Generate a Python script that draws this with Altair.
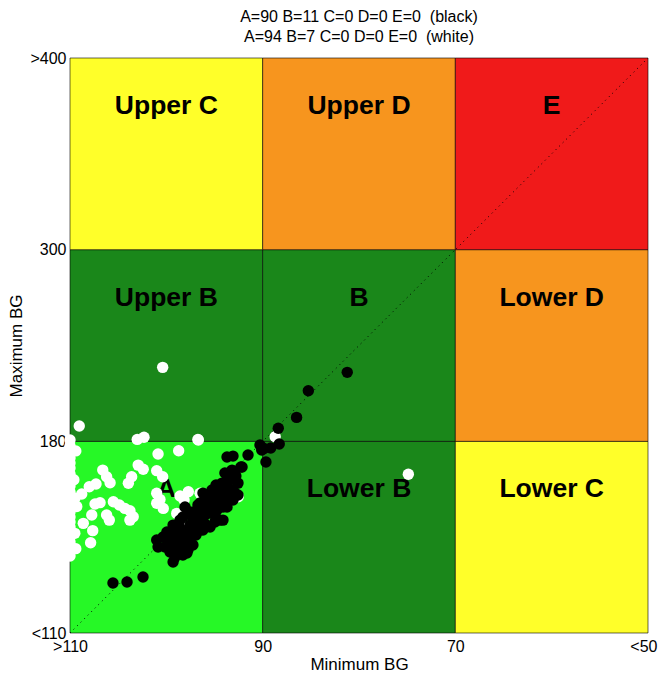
import altair as alt
import pandas as pd

# Control Variability Grid: coordinates in grid units (0..3 on each axis)
x_ticks = [0, 1, 2, 3]
x_tick_labels = [">110", "90", "70", "<50"]
y_ticks = [0, 1, 2, 3]
y_tick_labels = ["<110", "180", "300", ">400"]

# zones, rows from bottom to top, columns left to right
zone_labels = [
    ["A", "Lower B", "Lower C"],
    ["Upper B", "B", "Lower D"],
    ["Upper C", "Upper D", "E"],
]
zone_colors = [
    ["#26F826", "#1A871A", "#FFFF29"],
    ["#1A871A", "#1A871A", "#F7951E"],
    ["#FFFF29", "#F7951E", "#F01A1A"],
]

# white series (min-BG grid position, max-BG grid position)
white_x = [0.481, 0.048, 0.349, 0.384, 0.664, 0.564, 0.457, 0.354, 0.380, 0.170,
           0.190, 0.208, 0.320, 0.303, 0.450, 0.481, 0.135, 0.100, 0.061, 0.026,
           0.156, 0.130, 0.225, 0.256, 0.285, 0.311, 0.328, 0.311, 0.450, 0.467,
           0.450, 0.484, 0.571, 0.592, 0.614, 0.554, 0.190, 0.204, 0.113, 0.069,
           0.118, 0.107, 0.813, 0.873, 0.675, 0.580, 1.065, 0.666, 1.756,
           0.0, 0.0, 0.0, 0.0, 0.0, 0.0, 0.0, 0.0, 0.0, 0.0, 0.0, 0.0, 0.0,
           0.0, 0.0, 0.0, 0.0, 0.0, 0.0, 0.0, 0.0, 0.0, 0.0,
           0.03, 0.02, 0.035, 0.025, 0.03]
white_y = [1.386, 1.080, 1.010, 1.021, 1.010, 0.951, 0.934, 0.876, 0.854, 0.850,
           0.815, 0.784, 0.815, 0.781, 0.847, 0.815, 0.777, 0.763, 0.725, 0.703,
           0.680, 0.673, 0.685, 0.668, 0.650, 0.638, 0.607, 0.589, 0.729, 0.697,
           0.677, 0.650, 0.715, 0.694, 0.737, 0.624, 0.616, 0.589, 0.616, 0.572,
           0.534, 0.471, 0.746, 0.711, 0.729, 0.555, 1.024, 1.007, 0.828,
           1.007, 0.975, 0.944, 0.913, 0.887, 0.861, 0.829, 0.798, 0.767, 0.736,
           0.709, 0.683, 0.657, 0.631, 0.605, 0.579, 0.553, 0.527, 0.501, 0.475,
           0.449, 0.423, 0.402,
           0.95, 0.80, 0.66, 0.52, 0.44]

# black series
black_x = [1.439, 1.237, 1.176, 1.081, 1.086, 1.042, 1.007, 1.017, 0.995, 0.986,
           0.223, 0.296, 0.379, 0.535, 0.457, 0.450, 0.483, 0.519, 0.493, 0.519,
           0.545, 0.586, 0.612, 0.638, 0.607, 0.571, 0.503, 0.535, 0.571, 0.602,
           0.550, 0.586, 0.623, 0.654, 0.675, 0.690, 0.659, 0.701, 0.727, 0.752,
           0.778, 0.794, 0.597, 0.623, 0.586, 0.659, 0.675, 0.690, 0.716, 0.742,
           0.768, 0.794, 0.815, 0.763, 0.727, 0.701, 0.638, 0.623, 0.675, 0.727,
           0.752, 0.778, 0.737, 0.711, 0.804, 0.830, 0.789, 0.815, 0.846, 0.872,
           0.856, 0.846, 0.794, 0.872, 0.893, 0.815, 0.846, 0.924, 0.887, 0.758,
           0.701, 0.664, 0.804, 0.830, 0.649, 0.560, 0.529, 0.597, 0.623, 0.701,
           0.752, 0.820, 0.841, 0.861, 0.768, 0.727, 0.571, 0.550, 0.509]
black_y = [1.360, 1.264, 1.125, 1.068, 0.986, 0.965, 0.963, 0.892, 0.955, 0.981,
           0.261, 0.266, 0.292, 0.370, 0.449, 0.485, 0.501, 0.527, 0.449, 0.423,
           0.396, 0.407, 0.433, 0.459, 0.417, 0.443, 0.527, 0.563, 0.548, 0.516,
           0.485, 0.480, 0.496, 0.511, 0.537, 0.537, 0.574, 0.569, 0.553, 0.579,
           0.589, 0.589, 0.657, 0.631, 0.605, 0.642, 0.678, 0.730, 0.709, 0.694,
           0.678, 0.657, 0.657, 0.642, 0.626, 0.616, 0.589, 0.563, 0.605, 0.657,
           0.720, 0.746, 0.746, 0.668, 0.835, 0.798, 0.782, 0.756, 0.746, 0.720,
           0.730, 0.694, 0.777, 0.782, 0.866, 0.918, 0.923, 0.929, 0.866, 0.772,
           0.704, 0.668, 0.704, 0.720, 0.616, 0.511, 0.459, 0.459, 0.537, 0.642,
           0.616, 0.809, 0.850, 0.819, 0.720, 0.694, 0.589, 0.423, 0.485]

title_lines = ["A=90 B=11 C=0 D=0 E=0\u00a0 (black)", "A=94 B=7 C=0 D=0 E=0\u00a0 (white)"]

FONT = "Liberation Sans"

cells = []
for r in range(3):
    for c in range(3):
        cells.append({"x": c, "x2": c + 1, "y": r, "y2": r + 1,
                      "lx": c + 0.5, "ly": r + 0.75,
                      "label": zone_labels[r][c], "color": zone_colors[r][c]})
cells_df = pd.DataFrame(cells)

xscale = alt.Scale(domain=[0, 3], nice=False, zero=False)
yscale = alt.Scale(domain=[0, 3], nice=False, zero=False)

def lab_expr(ticks, labels):
    parts = " : ".join(f"datum.value == {t} ? '{l}'" for t, l in zip(ticks, labels))
    return parts + " : ''"

xaxis = alt.Axis(values=x_ticks, labelExpr=lab_expr(x_ticks, x_tick_labels), title="Minimum BG",
                 grid=False, ticks=False, domain=False, labelFontSize=16, titleFontSize=17,
                 labelFont=FONT, titleFont=FONT, titleFontWeight="normal", labelColor="#000",
                 titleColor="#000", labelPadding=5, titlePadding=2, labelFlush=False,
                 labelOverlap=False,
                 labelAlign={"condition": {"test": "datum.value == 3", "value": "right"},
                             "value": "center"},
                 labelOffset={"condition": {"test": "datum.value == 3", "value": 9},
                              "value": 0})
yaxis = alt.Axis(values=y_ticks, labelExpr=lab_expr(y_ticks, y_tick_labels), title="Maximum BG",
                 grid=False, ticks=False, domain=False, labelFontSize=16, titleFontSize=17,
                 labelFont=FONT, titleFont=FONT, titleFontWeight="normal", labelColor="#000",
                 titleColor="#000", labelPadding=4, titlePadding=4, labelFlush=False,
                 labelOverlap=False)

base_cells = alt.Chart(cells_df)
rects = base_cells.mark_rect(stroke="#000000", strokeWidth=0.6).encode(
    x=alt.X("x:Q", scale=xscale, axis=xaxis),
    x2="x2:Q",
    y=alt.Y("y:Q", scale=yscale, axis=yaxis),
    y2="y2:Q",
    color=alt.Color("color:N", scale=None),
)
labels = base_cells.mark_text(font=FONT, fontSize=26.5, fontWeight="bold", color="#000",
                              baseline="middle", align="center").encode(
    x=alt.X("lx:Q", scale=xscale), y=alt.Y("ly:Q", scale=yscale), text="label:N")

diag_df = pd.DataFrame({"x": [0], "y": [0], "x2": [3], "y2": [3]})
diag = alt.Chart(diag_df).mark_rule(color="#000", strokeWidth=1, strokeDash=[1, 4]).encode(
    x=alt.X("x:Q", scale=xscale), y=alt.Y("y:Q", scale=yscale), x2="x2:Q", y2="y2:Q")

white_df = pd.DataFrame({"x": white_x, "y": white_y})
black_df = pd.DataFrame({"x": black_x, "y": black_y})
white = alt.Chart(white_df).mark_circle(size=130, color="#FFFFFF", opacity=1).encode(
    x=alt.X("x:Q", scale=xscale), y=alt.Y("y:Q", scale=yscale))
black = alt.Chart(black_df).mark_circle(size=130, color="#000000", opacity=1).encode(
    x=alt.X("x:Q", scale=xscale), y=alt.Y("y:Q", scale=yscale))

chart = alt.layer(rects, labels, diag, white, black).properties(
    width=578, height=575,
    title=alt.TitleParams(text=title_lines, fontSize=16, font=FONT, fontWeight="normal",
                          anchor="middle", offset=5, lineHeight=20, color="#000"),
    padding={"left": 62, "top": 50, "right": 10, "bottom": 40},
    autosize=alt.AutoSizeParams(type="none"),
).configure_view(stroke=None)

chart.save("out.html", embed_options={"renderer": "svg", "actions": False})
